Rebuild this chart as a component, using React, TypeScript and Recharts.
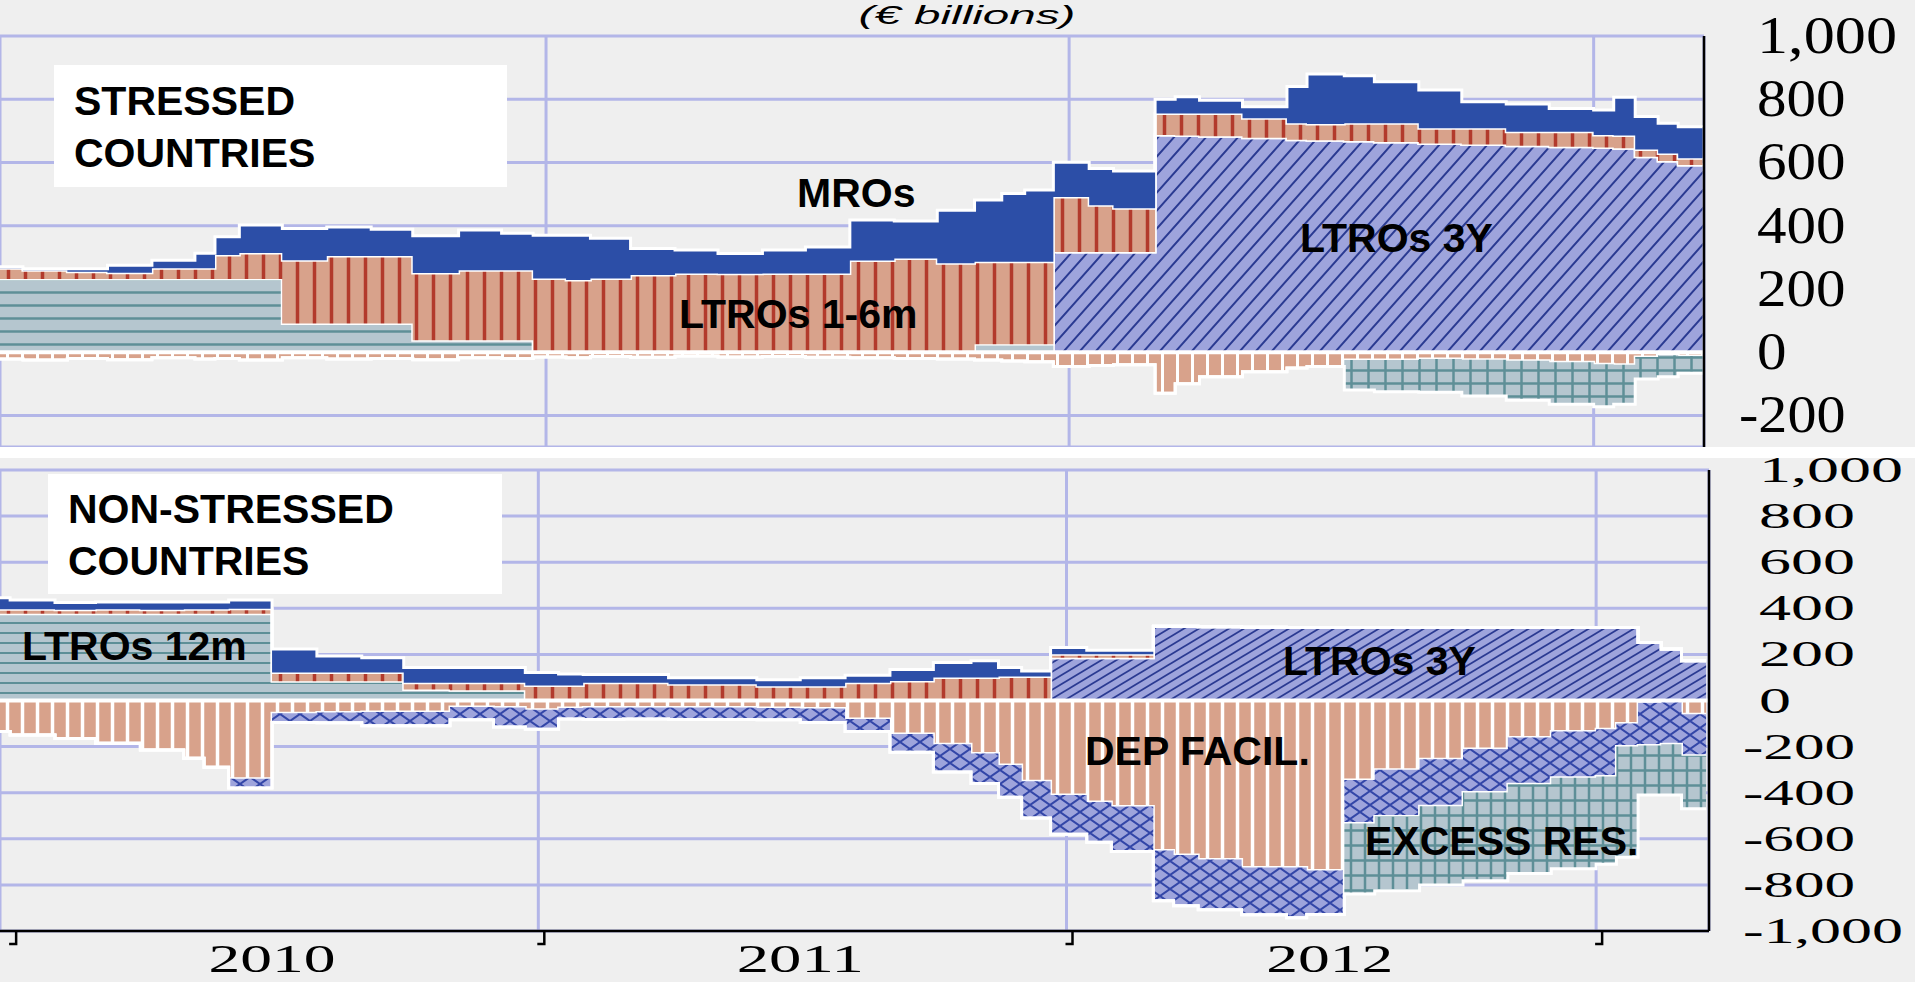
import React from 'react';
import { AreaChart, Area, XAxis, YAxis, CartesianGrid, ReferenceLine } from 'recharts';

// period start dates (each value holds until the next date)
const dates = [
  '2009-12-16', '2010-01-01', '2010-02-01', '2010-03-01', '2010-04-01', '2010-05-01', '2010-05-15', '2010-06-01',
  '2010-07-01', '2010-08-01', '2010-09-01', '2010-09-30', '2010-11-01', '2010-12-01', '2010-12-23', '2011-01-15',
  '2011-02-01', '2011-03-01', '2011-04-01', '2011-05-01', '2011-06-01', '2011-07-01', '2011-08-01', '2011-09-01',
  '2011-10-01', '2011-10-27', '2011-11-15', '2011-12-01', '2011-12-21', '2012-01-15', '2012-02-01', '2012-03-01',
  '2012-03-15', '2012-04-01', '2012-05-01', '2012-06-01', '2012-06-15', '2012-07-11', '2012-08-01', '2012-09-01',
  '2012-10-01', '2012-11-01', '2012-12-01', '2013-01-01', '2013-01-15', '2013-01-30', '2013-02-15', '2013-03-01',
  '2013-03-18',
];

// stressed countries (EUR bn)
const stressedLtro12m = [
  231, 231, 231, 231, 231, 231, 231, 231, 91, 91, 91, 38, 38, 38, 0, 0,
  0, 0, 0, 0, 0, 0, 0, 0, 0, 25, 25, 25, 0, 0, 0, 0,
  0, 0, 0, 0, 0, 0, 0, 0, 0, 0, 0, 0, 0, 0, 0, 0, 0,
];
const stressedLtro16m = [
  34, 28, 23, 20, 34, 34, 76, 83, 200, 213, 213, 212, 221, 221, 233, 228,
  233, 244, 249, 248, 249, 249, 290, 296, 281, 261, 261, 261, 174, 148, 138, 68,
  70, 72, 62, 52, 52, 56, 59, 48, 51, 44, 47, 40, 40, 23, 23, 21, 21,
];
const stressedMro = [
  5, 5, 10, 24, 26, 48, 58, 88, 100, 92, 85, 118, 127, 117, 137, 142,
  127, 84, 74, 64, 74, 84, 128, 119, 168, 195, 216, 227, 110, 116, 118, 45,
  53, 42, 36, 116, 158, 150, 131, 121, 84, 88, 74, 79, 121, 104, 96, 100, 100,
];
const stressedLtro3y = [
  0, 0, 0, 0, 0, 0, 0, 0, 0, 0, 0, 0, 0, 0, 0, 0,
  0, 0, 0, 0, 0, 0, 0, 0, 0, 0, 0, 0, 317, 317, 317, 687,
  685, 683, 678, 672, 670, 668, 665, 660, 657, 653, 650, 647, 645, 618, 605, 592, 590,
];
const stressedDepFacil = [
  -22, -25, -20, -24, -18, -22, -20, -25, -18, -22, -20, -24, -18, -20, -15, -18,
  -14, -16, -12, -15, -14, -16, -18, -20, -22, -25, -28, -30, -45, -42, -40, -130,
  -100, -78, -62, -50, -45, -25, -25, -22, -24, -27, -32, -38, -40, -15, -10, -12, -12,
];
const stressedExcess = [
  0, 0, 0, 0, 0, 0, 0, 0, 0, 0, 0, 0, 0, 0, 0, 0,
  0, 0, 0, 0, 0, 0, 0, 0, 0, 0, 0, 0, 0, 0, 0, 0,
  0, 0, 0, 0, 0, -95, -100, -105, -115, -125, -133, -135, -125, -70, -68, -55, -55,
];

// non-stressed countries (EUR bn)
const nonLtro12m = [
  376, 376, 376, 376, 376, 376, 376, 376, 84, 84, 84, 48, 45, 45, 0, 0,
  0, 0, 0, 0, 0, 0, 0, 0, 0, 8, 8, 8, 0, 0, 0, 0,
  0, 0, 0, 0, 0, 0, 0, 0, 0, 0, 0, 0, 0, 0, 0, 0, 0,
];
const nonLtro16m = [
  20, 20, 18, 20, 18, 20, 20, 22, 37, 37, 37, 29, 32, 32, 65, 65,
  77, 77, 70, 70, 62, 62, 77, 85, 100, 92, 96, 96, 15, 15, 15, 0,
  0, 0, 0, 0, 0, 0, 0, 0, 0, 0, 0, 0, 0, 0, 0, 0, 0,
];
const nonMro = [
  50, 40, 31, 31, 33, 31, 31, 38, 102, 72, 65, 66, 66, 66, 56, 50,
  36, 36, 29, 29, 28, 37, 33, 50, 65, 72, 39, 24, 29, 17, 17, 0,
  0, 0, 0, 0, 0, 0, 0, 0, 0, 0, 0, 0, 0, 0, 0, 0, 0,
];
const nonLtro3y = [
  0, 0, 0, 0, 0, 0, 0, 0, 0, 0, 0, 0, 0, 0, 0, 0,
  0, 0, 0, 0, 0, 0, 0, 0, 0, 0, 0, 0, 186, 186, 186, 322,
  322, 320, 318, 317, 317, 317, 317, 317, 317, 317, 317, 317, 317, 252, 223, 172, 172,
];
const nonDepFacil = [
  -135, -150, -165, -185, -215, -250, -290, -340, -55, -52, -50, -50, -28, -30, -40, -32,
  -30, -30, -30, -30, -32, -35, -80, -145, -190, -230, -280, -350, -410, -440, -460, -651,
  -670, -690, -724, -724, -738, -345, -300, -255, -210, -160, -135, -125, -100, -10, 0, -60, -60,
];
const nonFixedTerm = [
  0, 0, 0, 0, 0, 0, 0, -40, -40, -44, -60, -60, -55, -85, -85, -48,
  -52, -50, -52, -52, -52, -60, -55, -80, -120, -130, -140, -160, -170, -175, -195, -218,
  -220, -218, -205, -218, -190, -189, -203, -204, -189, -203, -200, -205, -100, -185, -190, -180, -180,
];
const nonExcess = [
  0, 0, 0, 0, 0, 0, 0, 0, 0, 0, 0, 0, 0, 0, 0, 0,
  0, 0, 0, 0, 0, 0, 0, 0, 0, 0, 0, 0, 0, 0, 0, 0,
  0, 0, 0, 0, 0, -306, -322, -341, -383, -387, -395, -380, -480, -215, -220, -230, -230,
];

const topTicks = [-200, 0, 200, 400, 600, 800, 1000];
const bottomTicks = [-1000, -800, -600, -400, -200, 0, 200, 400, 600, 800, 1000];
const yearStartDates = ['2010-01-01', '2011-01-01', '2012-01-01', '2013-01-01'];
const yearLabelDates = ['2010-07-01', '2011-07-01', '2012-07-01'];

const day = (s: string) => Date.parse(s + 'T00:00:00Z');

const stressedData = dates.map((d, i) => ({
  t: day(d),
  ltro3y: stressedLtro3y[i],
  ltro12m: stressedLtro12m[i],
  ltro16m: stressedLtro16m[i],
  mro: stressedMro[i],
  dep: stressedDepFacil[i],
  excess: stressedExcess[i],
}));

const nonStressedData = dates.map((d, i) => ({
  t: day(d),
  ltro3y: nonLtro3y[i],
  ltro12m: nonLtro12m[i],
  ltro16m: nonLtro16m[i],
  mro: nonMro[i],
  dep: nonDepFacil[i],
  ftd: nonFixedTerm[i],
  excess: nonExcess[i],
}));

const yearStarts = yearStartDates.map(day);
const yearLabels = yearLabelDates.map(day);
const bottomAxisTicks = [...yearStarts, ...yearLabels].sort((a, b) => a - b);

const TOP_DOMAIN = [day('2009-12-16'), day('2013-03-19')];
const BOTTOM_DOMAIN = [day('2009-12-25'), day('2013-03-20')];

const GRID = '#b3b6e8';
const BG = '#efefef';
const SALMON = '#d8a28b';
const LAVENDER = '#9ea4dc';
const TEAL_BG = '#b5c6cf';
const TEAL_LINE = '#5e8f97';
const SERIF = "'Liberation Serif', 'Times New Roman', serif";
const SANS = "'Liberation Sans', Arial, sans-serif";

const TOP_SPEC = { left: 1757, digit: 29.5, comma: 22, minus: 18, size: 52, shift: 17 };
const BOTTOM_SPEC = { left: 1759, digit: 32, comma: 16, minus: 16, size: 36, shift: 12 };
// the bottom chart starts 10px higher (top 448) so its top tick label is not clipped
const BOTTOM_TOP = 448;
const BOTTOM_AXIS_Y = 931 - BOTTOM_TOP;

function ValueTick(props: any) {
  const { y, payload, spec } = props;
  const v: number = payload.value;
  const s = v.toLocaleString('en-US');
  const digits = s.replace(/[^0-9]/g, '').length;
  const commas = (s.match(/,/g) || []).length;
  const neg = v < 0;
  const len = digits * spec.digit + commas * spec.comma + (neg ? spec.minus : 0);
  return (
    <text x={spec.left - (neg ? spec.minus : 0)} y={y + spec.shift} fontSize={spec.size} fontFamily={SERIF}
      textLength={len} lengthAdjust="spacingAndGlyphs" fill="#000">
      {s}
    </text>
  );
}

function YearTick(props: any) {
  const { x, payload } = props;
  if (yearStarts.includes(payload.value)) {
    return <path d={`M${x + 6},${BOTTOM_AXIS_Y} v13 h-7`} stroke="#000" strokeWidth={2.5} fill="none" />;
  }
  return (
    <text x={x} y={972 - BOTTOM_TOP} textAnchor="middle" fontSize={40} fontFamily={SERIF} textLength={127}
      lengthAdjust="spacingAndGlyphs" fill="#000">
      {new Date(payload.value).getUTCFullYear()}
    </text>
  );
}

const areaProps = {
  type: 'stepAfter' as const,
  stroke: '#fff',
  strokeWidth: 3,
  fillOpacity: 1,
  isAnimationActive: false,
  dot: false,
  activeDot: false,
};

export default function App() {
  return (
    <div style={{ position: 'absolute', left: 0, top: 0, width: 1915, height: 982, background: BG, overflow: 'hidden' }}>
      <div style={{ position: 'absolute', left: 0, top: 0 }}>
        <AreaChart width={1915} height={447} data={stressedData} margin={{ top: 36, right: 0, bottom: 0, left: 0 }}>
          <defs>
            <pattern id="t12" width={40} height={13} patternUnits="userSpaceOnUse">
              <rect width={40} height={13} fill={TEAL_BG} />
              <line x1={0} y1={6.5} x2={40} y2={6.5} stroke={TEAL_LINE} strokeWidth={2.5} />
            </pattern>
            <pattern id="t16" width={17} height={20} patternUnits="userSpaceOnUse">
              <rect width={17} height={20} fill={SALMON} />
              <line x1={8.5} y1={0} x2={8.5} y2={20} stroke="#b23a2c" strokeWidth={3.5} />
            </pattern>
            <pattern id="t3y" width={16} height={18} patternUnits="userSpaceOnUse">
              <rect width={16} height={18} fill={LAVENDER} />
              <path d="M0,18 L16,0 M-4,4.5 L4,-4.5 M12,22.5 L20,13.5" stroke="#2a3a92" strokeWidth={2} />
            </pattern>
            <pattern id="tdep" width={15} height={10} patternUnits="userSpaceOnUse">
              <rect width={15} height={10} fill={SALMON} />
              <line x1={7.5} y1={0} x2={7.5} y2={10} stroke="#fff" strokeWidth={3} />
            </pattern>
            <pattern id="tex" width={17} height={13} patternUnits="userSpaceOnUse">
              <rect width={17} height={13} fill={TEAL_BG} />
              <line x1={8.5} y1={0} x2={8.5} y2={13} stroke={TEAL_LINE} strokeWidth={2.5} />
              <line x1={0} y1={6.5} x2={17} y2={6.5} stroke={TEAL_LINE} strokeWidth={2.5} />
            </pattern>
          </defs>
          <CartesianGrid stroke={GRID} strokeWidth={3} />
          <XAxis type="number" dataKey="t" domain={TOP_DOMAIN} ticks={yearStarts} hide allowDataOverflow />
          <YAxis orientation="right" width={211} type="number" domain={[-300, 1000]} ticks={topTicks}
            interval={0} allowDataOverflow axisLine={{ stroke: '#000', strokeWidth: 2.5 }} tickLine={false}
            tick={(p: any) => <ValueTick {...p} spec={TOP_SPEC} />} />
          <Area {...areaProps} dataKey="ltro3y" stackId="pos" fill="url(#t3y)" />
          <Area {...areaProps} dataKey="ltro12m" stackId="pos" fill="url(#t12)" />
          <Area {...areaProps} dataKey="ltro16m" stackId="pos" fill="url(#t16)" />
          <Area {...areaProps} dataKey="mro" stackId="pos" fill="#2c4ea7" />
          <Area {...areaProps} dataKey="dep" stackId="neg" fill="url(#tdep)" />
          <Area {...areaProps} dataKey="excess" stackId="neg" fill="url(#tex)" />
          <ReferenceLine y={0} stroke="#fff" strokeWidth={4} />
        </AreaChart>
      </div>

      <div style={{ position: 'absolute', left: 0, top: 447, width: 1915, height: 11, background: '#fff' }} />

      <div style={{ position: 'absolute', left: 0, top: BOTTOM_TOP }}>
        <AreaChart width={1915} height={982 - BOTTOM_TOP} data={nonStressedData}
          margin={{ top: 470 - BOTTOM_TOP, right: 0, bottom: 0, left: 0 }}>
          <defs>
            <pattern id="b12" width={40} height={10} patternUnits="userSpaceOnUse">
              <rect width={40} height={10} fill={TEAL_BG} />
              <line x1={0} y1={5} x2={40} y2={5} stroke={TEAL_LINE} strokeWidth={2.2} />
            </pattern>
            <pattern id="b16" width={17} height={20} patternUnits="userSpaceOnUse">
              <rect width={17} height={20} fill={SALMON} />
              <line x1={8.5} y1={0} x2={8.5} y2={20} stroke="#b23a2c" strokeWidth={3.5} />
            </pattern>
            <pattern id="b3y" width={15} height={9} patternUnits="userSpaceOnUse">
              <rect width={15} height={9} fill={LAVENDER} />
              <path d="M0,9 L15,0 M-5,3 L5,-3 M10,12 L20,6" stroke="#2a3a92" strokeWidth={1.8} />
            </pattern>
            <pattern id="bdep" width={15} height={10} patternUnits="userSpaceOnUse">
              <rect width={15} height={10} fill={SALMON} />
              <line x1={7.5} y1={0} x2={7.5} y2={10} stroke="#fff" strokeWidth={3.5} />
            </pattern>
            <pattern id="bftd" width={20} height={14} patternUnits="userSpaceOnUse">
              <rect width={20} height={14} fill={LAVENDER} />
              <path d="M0,0 L20,14 M0,14 L20,0" stroke="#3346a8" strokeWidth={2} />
            </pattern>
            <pattern id="bex" width={14} height={15} patternUnits="userSpaceOnUse">
              <rect width={14} height={15} fill={TEAL_BG} />
              <line x1={7} y1={0} x2={7} y2={15} stroke={TEAL_LINE} strokeWidth={2.5} />
              <line x1={0} y1={7.5} x2={14} y2={7.5} stroke={TEAL_LINE} strokeWidth={2.5} />
            </pattern>
          </defs>
          <CartesianGrid stroke={GRID} strokeWidth={3} xAxisId="grid" />
          <XAxis xAxisId="grid" type="number" dataKey="t" domain={BOTTOM_DOMAIN} ticks={yearStarts} hide allowDataOverflow />
          <XAxis type="number" dataKey="t" domain={BOTTOM_DOMAIN} ticks={bottomAxisTicks} interval={0} height={51}
            allowDataOverflow axisLine={{ stroke: '#000', strokeWidth: 2.5 }} tickLine={false} tick={YearTick} />
          <YAxis orientation="right" width={206} type="number" domain={[-1000, 1000]} ticks={bottomTicks}
            interval={0} allowDataOverflow axisLine={{ stroke: '#000', strokeWidth: 2.5 }} tickLine={false}
            tick={(p: any) => <ValueTick {...p} spec={BOTTOM_SPEC} />} />
          <Area {...areaProps} dataKey="ltro3y" stackId="pos" fill="url(#b3y)" />
          <Area {...areaProps} dataKey="ltro12m" stackId="pos" fill="url(#b12)" />
          <Area {...areaProps} dataKey="ltro16m" stackId="pos" fill="url(#b16)" />
          <Area {...areaProps} dataKey="mro" stackId="pos" fill="#2c4ea7" />
          <Area {...areaProps} dataKey="dep" stackId="neg" fill="url(#bdep)" />
          <Area {...areaProps} dataKey="ftd" stackId="neg" fill="url(#bftd)" />
          <Area {...areaProps} dataKey="excess" stackId="neg" fill="url(#bex)" />
          <ReferenceLine y={0} stroke="#fff" strokeWidth={4} />
        </AreaChart>
      </div>

      <svg width={1915} height={982} style={{ position: 'absolute', left: 0, top: 0, pointerEvents: 'none' }}>
        <text x={967} y={24} textAnchor="middle" fontSize={26} fontStyle="italic" fontFamily={SANS}
          textLength={217} lengthAdjust="spacingAndGlyphs">(€ billions)</text>
        <rect x={54} y={65} width={453} height={122} fill="#fff" />
        <rect x={48} y={474} width={454} height={120} fill="#fff" />
        <g fontFamily={SANS} fontWeight="bold" fontSize={41} fill="#000">
          <text x={74} y={115}>STRESSED</text>
          <text x={74} y={167}>COUNTRIES</text>
          <text x={68} y={523}>NON-STRESSED</text>
          <text x={68} y={575}>COUNTRIES</text>
          <text x={797} y={207}>MROs</text>
          <text x={679} y={328}>LTROs 1-6m</text>
          <text x={1300} y={252}>LTROs 3Y</text>
          <text x={22} y={660}>LTROs 12m</text>
          <text x={1283} y={675}>LTROs 3Y</text>
          <text x={1085} y={765}>DEP FACIL.</text>
          <text x={1365} y={855}>EXCESS RES.</text>
        </g>
      </svg>
    </div>
  );
}
